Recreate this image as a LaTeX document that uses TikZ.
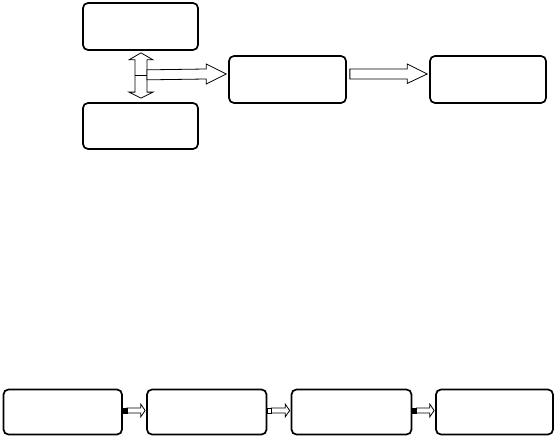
\documentclass[tikz,border=0pt]{standalone}
\usetikzlibrary{calc}
\begin{document}
\begin{tikzpicture}[x=1pt,y=-1pt,
  box/.style={draw, line width=1.7pt, rounded corners=5pt, inner sep=0pt},
  barrow/.style={draw, line width=0.8pt, fill=white, line join=miter},
  stub/.style={draw, line width=0.6pt, fill=black},
  stubw/.style={draw, line width=0.6pt, fill=white}]
\useasboundingbox (0,0) rectangle (557,438);
% top group
\node[box, minimum width=115pt, minimum height=47pt] (a) at (140.5,26.5) {};
\node[box, minimum width=115pt, minimum height=46pt] (b) at (140.5,126) {};
\node[box, minimum width=117pt, minimum height=47pt] (c) at (287.5,79.5) {};
\node[box, minimum width=116pt, minimum height=47pt] (d) at (488,79.5) {};
% bottom row
\node[box, minimum width=118.5pt, minimum height=45pt] (e) at (62.75,412) {};
\node[box, minimum width=119.5pt, minimum height=45pt] (f) at (206.75,412) {};
\node[box, minimum width=120pt, minimum height=45pt] (g) at (351.5,412) {};
\node[box, minimum width=117pt, minimum height=45pt] (h) at (494.5,412) {};

% double vertical arrow between a and b
\coordinate (ut) at ($(a.south)+(0.5,2)$);
\coordinate (dt) at ($(b.north)+(0.5,-4)$);
\draw[barrow] (ut) -- ++(12,7) -- ++(-6,0) -- ($(dt)+(6,-6)$) -- ++(6,0) -- (dt)
  -- ++(-12,-6) -- ++(6,0) -- ($(ut)+(-6,7)$) -- ++(-6,0) -- cycle;
\draw[line width=0.8pt] ($(ut)+(-6,23)$) -- ++(12,0);

% arrow from double arrow to c
\coordinate (ct) at ($(c.west)+(-2,-5.5)$);
\draw[barrow] ($(ut)+(6,17)$) -- ($(ct)+(-20,-5)$) -- ($(ct)+(-20,-10)$) -- (ct)
  -- ($(ct)+(-20,10)$) -- ($(ct)+(-20,5)$) -- ($(ut)+(6,27)$) -- cycle;

% arrow c -> d
\coordinate (dtp) at ($(d.west)+(-2,-5.5)$);
\draw[barrow] ($(c.east)+(3,-10.5)$) -- ($(dtp)+(-20,-5)$) -- ($(dtp)+(-20,-10)$) -- (dtp)
  -- ($(dtp)+(-20,9.5)$) -- ($(dtp)+(-20,5)$) -- ($(c.east)+(3,-0.5)$) -- cycle;

% bottom arrows
\foreach \s/\t/\st in {e/f/stub, f/g/stubw, g/h/stub} {
  \coordinate (tp) at ($(\t.west)+(-1,-1.5)$);
  \draw[barrow] ($(\s.east)+(4,-4)$) -- ($(tp)+(-4.5,-2.5)$) -- ($(tp)+(-4.5,-6.5)$) -- (tp)
    -- ($(tp)+(-4.5,6.5)$) -- ($(tp)+(-4.5,2.5)$) -- ($(\s.east)+(4,1)$) -- cycle;
  \draw[\st] ($(\s.east)+(0,-4)$) rectangle ($(\s.east)+(4,1)$);
}
\end{tikzpicture}
\end{document}
